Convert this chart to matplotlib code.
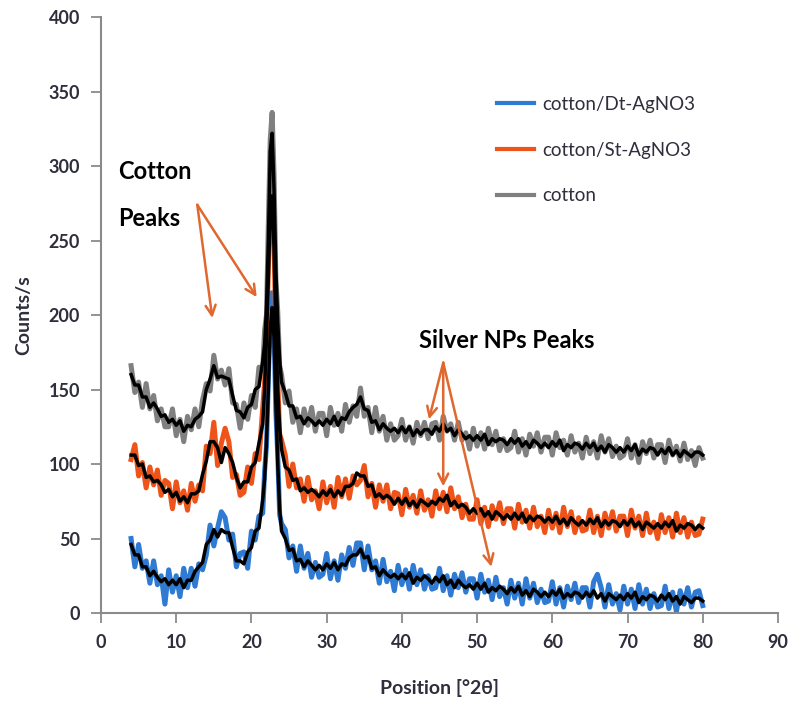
import matplotlib
matplotlib.use("Agg")
import matplotlib.pyplot as plt
import numpy as np

# sampling grid in degrees 2theta (finer around the main cellulose peak)
position = np.concatenate([np.arange(4, 21.75, 0.5),
                           np.arange(21.75, 24.25, 0.25),
                           np.arange(24.5, 80.25, 0.5)])

# raw counts
cotton_raw = [
    166, 148, 155, 138, 154, 137, 146, 129, 137, 125,
    125, 137, 119, 130, 115, 132, 123, 137, 125, 143,
    154, 149, 173, 157, 163, 153, 164, 141, 140, 124,
    141, 130, 146, 138, 165, 164,
    190, 200, 262, 318, 336, 295, 224, 202, 166, 160,
    141, 149, 128, 137, 121, 137, 126, 138, 122, 134,
    134, 119, 138, 126, 134, 122, 140, 128, 139, 132,
    151, 132, 138, 121, 138, 122, 132, 116, 127, 116,
    119, 130, 116, 125, 114, 128, 119, 128, 117, 127,
    128, 116, 132, 122, 127, 116, 128, 116, 121, 110,
    124, 112, 121, 110, 124, 113, 122, 109, 117, 109,
    111, 122, 108, 117, 106, 120, 112, 121, 108, 118,
    118, 106, 121, 111, 116, 106, 119, 108, 114, 104,
    118, 107, 115, 104, 119, 108, 117, 105, 112, 104,
    106, 117, 104, 113, 101, 115, 107, 116, 104, 113,
    113, 101, 116, 106, 112, 102, 114, 103, 109, 99,
    111, 104,
]
st_raw = [
    103, 113, 92, 101, 84, 98, 86, 96, 79, 89,
    87, 70, 88, 74, 82, 69, 87, 75, 86, 82,
    112, 107, 128, 99, 114, 124, 115, 91, 93, 79,
    81, 98, 87, 107, 103, 137,
    155, 180, 232, 275, 290, 250, 185, 156, 120, 116,
    106, 85, 100, 84, 90, 75, 91, 76, 82, 70,
    88, 74, 85, 71, 91, 78, 90, 77, 92, 86,
    89, 99, 78, 87, 71, 86, 75, 86, 70, 81,
    80, 66, 83, 71, 79, 67, 82, 69, 76, 65,
    82, 70, 81, 68, 84, 70, 78, 64, 73, 63,
    63, 76, 60, 71, 58, 72, 63, 74, 60, 70,
    70, 57, 73, 61, 69, 57, 71, 58, 65, 54,
    69, 57, 67, 54, 71, 58, 68, 54, 64, 55,
    56, 69, 54, 65, 52, 67, 57, 68, 55, 65,
    65, 52, 69, 57, 65, 52, 67, 54, 61, 50,
    66, 54, 64, 51, 67, 54, 64, 51, 61, 52,
    53, 63,
]
dt_raw = [
    50, 31, 46, 30, 35, 20, 35, 19, 25, 6,
    29, 14, 25, 11, 30, 17, 30, 18, 33, 29,
    39, 59, 45, 57, 68, 64, 49, 53, 31, 40,
    41, 30, 55, 49, 65, 67,
    95, 112, 158, 198, 215, 190, 135, 106, 66, 60,
    56, 37, 45, 28, 45, 30, 40, 24, 34, 24,
    26, 40, 23, 35, 22, 39, 30, 44, 32, 47,
    47, 29, 45, 29, 35, 20, 36, 21, 28, 15,
    32, 19, 29, 16, 32, 19, 29, 16, 25, 16,
    17, 30, 15, 25, 12, 26, 17, 27, 14, 23,
    23, 10, 26, 14, 22, 9, 24, 11, 17, 6,
    22, 10, 20, 6, 23, 10, 20, 7, 16, 7,
    8, 21, 6, 17, 4, 18, 9, 20, 7, 17,
    17, 4, 21, 26, 17, 4, 19, 6, 13, 2,
    18, 6, 16, 3, 19, 6, 16, 3, 13, 4,
    5, 18, 3, 14, 1, 15, 6, 17, 4, 14,
    15, 5,
]

# moving-average trend lines (black)
cotton_avg = [
    160, 153, 153, 145, 145, 138, 141, 137, 132, 133,
    128, 130, 126, 129, 122, 126, 125, 130, 132, 135,
    150, 157, 166, 158, 159, 158, 157, 146, 136, 135,
    131, 138, 140, 150, 152, 169,
    180, 205, 250, 310, 322, 285, 230, 195, 170, 155,
    148, 139, 139, 131, 132, 127, 131, 129, 126, 129,
    126, 130, 127, 132, 126, 131, 130, 135, 138, 140,
    145, 137, 136, 128, 129, 123, 127, 124, 122, 124,
    121, 125, 121, 125, 119, 123, 120, 123, 123, 120,
    125, 122, 127, 122, 124, 119, 123, 120, 117, 119,
    116, 119, 116, 120, 113, 117, 115, 117, 116, 113,
    117, 114, 117, 112, 115, 111, 116, 114, 111, 114,
    111, 115, 112, 116, 109, 113, 111, 114, 113, 110,
    114, 111, 114, 109, 112, 108, 113, 111, 108, 111,
    108, 112, 109, 113, 106, 110, 108, 111, 110, 106,
    110, 107, 111, 106, 109, 105, 109, 107, 105, 108,
    108, 106,
]
st_avg = [
    106, 106, 99, 100, 91, 92, 88, 89, 86, 81,
    83, 78, 81, 75, 78, 74, 80, 80, 82, 93,
    102, 115, 115, 111, 101, 111, 107, 101, 91, 84,
    88, 88, 98, 101, 114, 127,
    150, 185, 225, 268, 280, 245, 190, 150, 125, 110,
    98, 96, 89, 90, 82, 84, 81, 83, 81, 78,
    82, 79, 83, 78, 82, 79, 85, 85, 87, 94,
    92, 92, 85, 86, 78, 80, 77, 79, 77, 73,
    77, 73, 77, 72, 75, 71, 76, 74, 72, 75,
    73, 77, 75, 79, 72, 75, 71, 73, 71, 67,
    70, 67, 70, 65, 68, 63, 68, 66, 63, 66,
    63, 67, 63, 67, 61, 65, 62, 65, 64, 61,
    64, 61, 65, 60, 63, 59, 64, 61, 59, 62,
    59, 63, 60, 64, 58, 62, 59, 62, 61, 58,
    62, 59, 63, 58, 61, 56, 61, 59, 57, 60,
    57, 61, 58, 62, 55, 59, 57, 60, 59, 56,
    59, 57,
]
dt_avg = [
    46, 39, 39, 31, 31, 25, 28, 24, 21, 23,
    19, 22, 19, 23, 17, 22, 22, 28, 31, 34,
    46, 49, 56, 51, 56, 54, 54, 44, 35, 35,
    33, 41, 44, 55, 57, 76,
    90, 115, 150, 190, 205, 185, 140, 100, 70, 55,
    50, 42, 43, 35, 36, 31, 35, 32, 29, 32,
    29, 33, 30, 34, 29, 33, 32, 37, 39, 39,
    43, 37, 38, 30, 31, 25, 29, 26, 24, 26,
    23, 26, 23, 27, 20, 24, 22, 25, 23, 20,
    24, 21, 25, 19, 22, 17, 22, 19, 17, 19,
    16, 20, 16, 20, 14, 17, 15, 18, 16, 13,
    17, 14, 18, 12, 15, 11, 16, 14, 11, 14,
    11, 15, 12, 16, 10, 13, 11, 14, 13, 10,
    14, 11, 15, 10, 13, 8, 13, 11, 9, 12,
    9, 13, 10, 14, 7, 11, 9, 12, 11, 8,
    12, 9, 13, 8, 11, 6, 11, 9, 7, 10,
    10, 8,
]

labels = ['cotton/Dt-AgNO3', 'cotton/St-AgNO3', 'cotton']
colors = ['#2f7ad2', '#ee5419', '#808080']
arrow_color = '#e0682e'
text_color = '#2e2e3c'

plt.rcParams['font.family'] = ['Lato', 'DejaVu Sans']

fig = plt.figure(figsize=(7.94, 7.19), dpi=100)
ax = fig.add_axes([0.1272, 0.1474, 0.8526, 0.8289])

for raw, c, lab in zip([dt_raw, st_raw, cotton_raw], colors, labels):
    ax.plot(position, raw, color=c, lw=3.6, label=lab)
for avg in [dt_avg, st_avg, cotton_avg]:
    ax.plot(position, avg, color='black', lw=2.5)

ax.set_xlim(0, 90)
ax.set_ylim(0, 400)
ax.set_xticks(np.arange(0, 91, 10))
ax.set_yticks(np.arange(0, 401, 50))
for s in ['top', 'right']:
    ax.spines[s].set_visible(False)
for s in ['left', 'bottom']:
    ax.spines[s].set_color('#8a8a8a')
    ax.spines[s].set_linewidth(1.5)
ax.tick_params(direction='out', length=7, width=1.3, color='#8a8a8a',
               labelsize=13, labelcolor=text_color, pad=8)
for t in ax.get_xticklabels() + ax.get_yticklabels():
    t.set_fontweight('bold')

ax.set_xlabel('Position [°2θ]', fontsize=14, fontweight='bold', color=text_color, labelpad=20)
ax.set_ylabel('Counts/s', fontsize=14, fontweight='bold', color=text_color, labelpad=12)

leg = ax.legend(loc='upper left', bbox_to_anchor=(0.56, 0.896), frameon=False,
                handlelength=2.0, handletextpad=0.4, labelspacing=1.53,
                fontsize=13.5)
for t in leg.get_texts():
    t.set_color(text_color)
for h in leg.get_lines():
    h.set_linewidth(3)

# annotations
ax.text(2.3, 296, 'Cotton', fontsize=17, fontweight='bold', va='center', color='black')
ax.text(2.3, 265, 'Peaks', fontsize=17, fontweight='bold', va='center', color='black')
ax.text(42.3, 183, 'Silver NPs Peaks', fontsize=17, fontweight='bold', va='center', color='black')

arrow_kw = dict(arrowstyle='->', color=arrow_color, lw=1.8, mutation_scale=18,
                shrinkA=0, shrinkB=0)
for tip in [(14.8, 198), (20.7, 212)]:
    ax.annotate('', xy=tip, xytext=(12.8, 274), arrowprops=arrow_kw)
for tip in [(43.6, 130), (45.5, 85), (51.9, 31)]:
    ax.annotate('', xy=tip, xytext=(45.5, 168), arrowprops=arrow_kw)

fig.savefig('out.png', dpi=100)
